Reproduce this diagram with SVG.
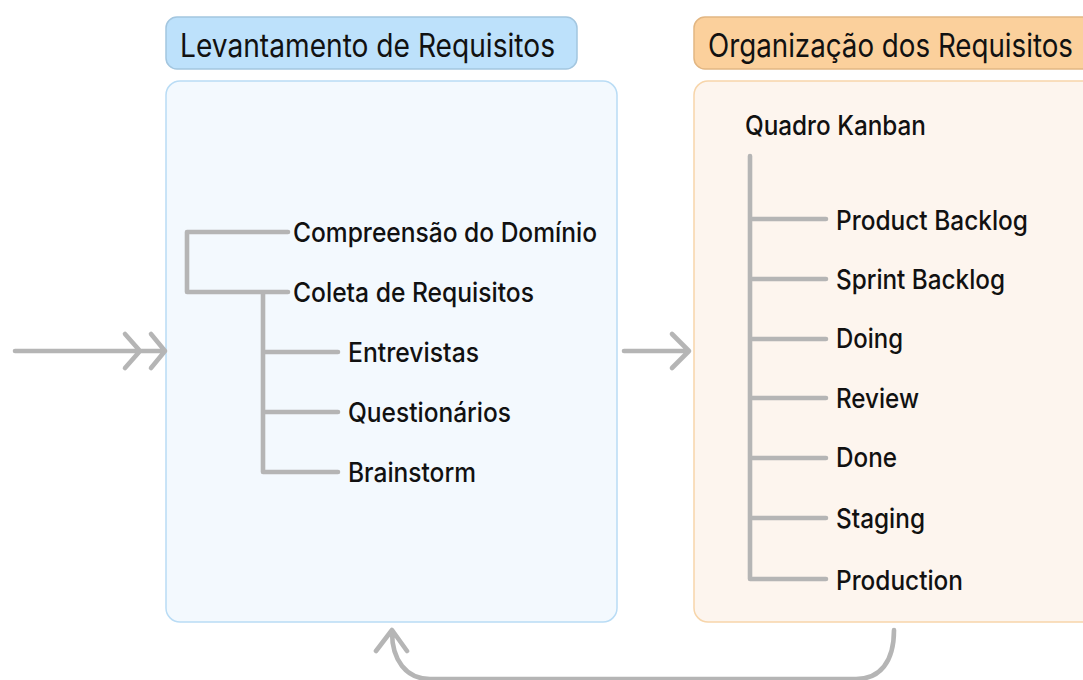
<svg xmlns="http://www.w3.org/2000/svg" width="1083" height="680" viewBox="0 0 1083 680">
<style>
.t{font-family:Inter,"Noto Sans","Liberation Sans",sans-serif;fill:#111;font-weight:500;}
.h{font-size:32px;font-weight:400;}
.i{font-size:27px;}
.ln{fill:none;stroke:#b5b5b5;stroke-width:4.6;stroke-linecap:round;stroke-linejoin:round;}
</style>
<rect width="1083" height="680" fill="#ffffff"/>
<g id="levantamento">
<rect x="166" y="17" width="411" height="52" rx="11" fill="#bde1fb" stroke="#a3c6df" stroke-width="1.5"/>
<text class="t h" x="180" y="57" textLength="375" lengthAdjust="spacingAndGlyphs">Levantamento de Requisitos</text>
<rect x="166" y="81" width="451" height="541" rx="14" fill="#f3f9fe" stroke="#b9dcf5" stroke-width="1.5"/>
</g>
<g id="organizacao">
<rect x="694" y="17" width="420" height="52" rx="11" fill="#fbd09c" stroke="#e2b682" stroke-width="1.5"/>
<text class="t h" x="708" y="57" textLength="365" lengthAdjust="spacingAndGlyphs">Organização dos Requisitos</text>
<rect x="694" y="81" width="420" height="541" rx="14" fill="#fdf5ee" stroke="#f7d5aa" stroke-width="1.5"/>
</g>
<g id="tree-left">
<path class="ln" d="M288 232 H187 V292 H288 M263 292 V472 H338 M263 352 H338 M263 412 H338"/>
<text class="t i" x="293" y="242" textLength="304" lengthAdjust="spacingAndGlyphs">Compreensão do Domínio</text>
<text class="t i" x="293" y="302" textLength="241" lengthAdjust="spacingAndGlyphs">Coleta de Requisitos</text>
<text class="t i" x="348" y="362" textLength="131" lengthAdjust="spacingAndGlyphs">Entrevistas</text>
<text class="t i" x="348" y="422" textLength="163" lengthAdjust="spacingAndGlyphs">Questionários</text>
<text class="t i" x="348" y="482" textLength="128" lengthAdjust="spacingAndGlyphs">Brainstorm</text>
</g>
<g id="tree-right">
<text class="t i" x="745" y="135" textLength="181" lengthAdjust="spacingAndGlyphs">Quadro Kanban</text>
<path class="ln" d="M750 156 V579 H826 M750 219 H826 M750 279 H826 M750 339 H826 M750 398 H826 M750 458 H826 M750 518 H826"/>
<text class="t i" x="836" y="230" textLength="192" lengthAdjust="spacingAndGlyphs">Product Backlog</text>
<text class="t i" x="836" y="289" textLength="169" lengthAdjust="spacingAndGlyphs">Sprint Backlog</text>
<text class="t i" x="836" y="348" textLength="67" lengthAdjust="spacingAndGlyphs">Doing</text>
<text class="t i" x="836" y="408" textLength="83" lengthAdjust="spacingAndGlyphs">Review</text>
<text class="t i" x="836" y="467" textLength="61" lengthAdjust="spacingAndGlyphs">Done</text>
<text class="t i" x="836" y="528" textLength="89" lengthAdjust="spacingAndGlyphs">Staging</text>
<text class="t i" x="836" y="590" textLength="127" lengthAdjust="spacingAndGlyphs">Production</text>
</g>
<g id="connectors">
<path class="ln" d="M15 351 H164 M125 334 L140 351 L125 368 M151 334 L165 351 L151 368"/>
<path class="ln" d="M624 351 H688 M672 334 L689 351 L672 368"/>
<path class="ln" d="M894 630 C894 662 880 679 856 679 L430 679 C406 679 392 660 392 632 M376 651 L392 630 L407 651"/>
</g>
</svg>
